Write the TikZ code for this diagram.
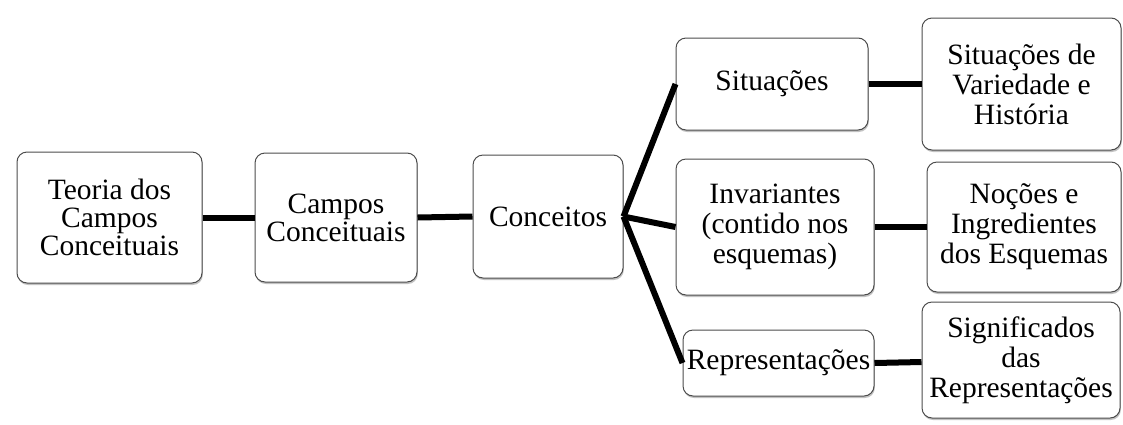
\documentclass[tikz,border=0pt]{standalone}
\usepackage{fontspec}
\setmainfont{Liberation Serif}
\usetikzlibrary{shadows}
\begin{document}
\begin{tikzpicture}[x=1pt,y=-1pt,
  box/.style={draw=black!70, line width=1pt, fill=white, rounded corners=10pt,
    align=center, inner sep=0pt,
    drop shadow={shadow xshift=0.8pt, shadow yshift=-2pt, opacity=0.4, fill=black!60},
    font=\fontsize{29.5}{30}\selectfont},
  tight/.style={font=\fontsize{29.5}{28}\selectfont},
  link/.style={line width=6pt, black}]
\useasboundingbox (0,0) rectangle (1123,424);
% first column
\node[box,tight,minimum width=185pt,minimum height=131pt] (teoria) at (109.5,217.5) {Teoria dos\\Campos\\Conceituais};
\node[box,tight,minimum width=162pt,minimum height=129pt] (campos) at (336,217.5) {Campos\\Conceituais};
\node[box,minimum width=150pt,minimum height=123pt] (conceitos) at (548,216.5) {Conceitos};
% middle column
\node[box,minimum width=192pt,minimum height=92pt] (situacoes) at (772,84) {Situações};
\node[box,minimum width=198pt,minimum height=136pt] (invariantes) at (775,227) {Invariantes\\(contido nos\\esquemas)};
\node[box,minimum width=191pt,minimum height=66pt] (repres) at (778.5,363) {Representações};
% right column
\node[box,minimum width=199pt,minimum height=132pt] (sitvar) at (1021.5,84) {Situações de\\Variedade e\\História};
\node[box,minimum width=194pt,minimum height=130pt] (nocoes) at (1024,227) {Noções e\\Ingredientes\\dos Esquemas};
\node[box,minimum width=198pt,minimum height=116pt] (signif) at (1021,360) {Significados\\das\\Representações};
% connectors
\draw[link] (teoria.east) -- (campos.west);
\draw[link] (campos.east) -- (conceitos.west);
\draw[link] (conceitos.east) -- (situacoes.west);
\draw[link] (conceitos.east) -- (invariantes.west);
\draw[link] (conceitos.east) -- (repres.west);
\draw[link] (situacoes.east) -- (sitvar.west);
\draw[link] (invariantes.east) -- (nocoes.west);
\draw[link] (repres.east) -- ([yshift=-2pt]signif.west);
\end{tikzpicture}
\end{document}
